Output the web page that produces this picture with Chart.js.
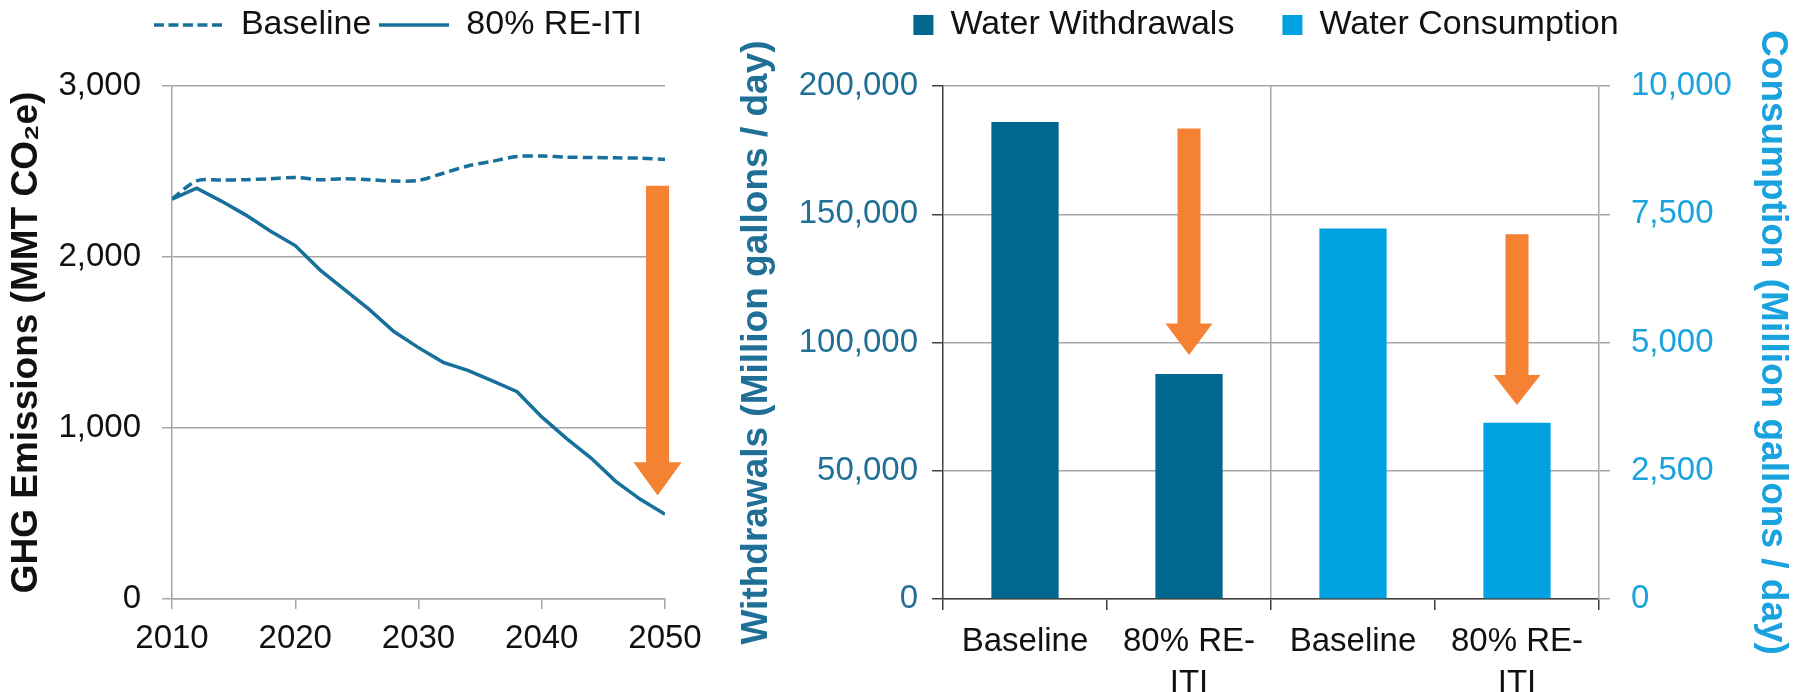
<!DOCTYPE html>
<html>
<head>
<meta charset="utf-8">
<script src="https://cdn.jsdelivr.net/npm/chart.js@4.4.1/dist/chart.umd.min.js"></script>
<style>
  html, body { margin: 0; padding: 0; background: #fff; }
  #wrap { position: relative; width: 1799px; height: 692px; overflow: hidden; }
  .box { position: absolute; top: 0; height: 692px; }
  #ghgBox { left: 0; width: 796px; }
  #waterBox { left: 733px; width: 1066px; }
</style>
</head>
<body>
<div id="wrap">
  <div class="box" id="ghgBox"><canvas id="ghgChart"></canvas></div>
  <div class="box" id="waterBox"><canvas id="waterChart"></canvas></div>
</div>
<script>
// GHG emissions (MMT CO2e)
const years = [2010, 2012, 2014, 2016, 2018, 2020, 2022, 2024, 2026, 2028, 2030,
               2032, 2034, 2036, 2038, 2040, 2042, 2044, 2046, 2048, 2050];
const baselineGhg = [2340, 2445, 2450, 2452, 2458, 2465, 2452, 2458, 2452, 2444, 2448,
                     2490, 2532, 2560, 2588, 2590, 2584, 2582, 2580, 2578, 2570];
const reItiGhg = [2338, 2403, 2327, 2245, 2151, 2067, 1925, 1809, 1694, 1564, 1470,
                  1384, 1337, 1275, 1212, 1065, 939, 824, 688, 583, 495];
const ghgTicks = [0, 1000, 2000, 3000];

// water use (million gallons / day)
const waterLabels = [['Baseline'], ['80% RE-', 'ITI'], ['Baseline'], ['80% RE-', 'ITI']];
const withdrawals = [186000, 87700, null, null];
const consumption = [null, null, 7220, 3435];

// reduction arrows: x value, top, start of head, tip
const ghgArrow = [2049.4, 2417, 800, 605];
const withdrawalArrow = [1, 183400, 107400, 95100];
const consumptionArrow = [3, 7110, 4365, 3780];

const fontFamily = "'Liberation Sans', Arial, sans-serif";
const lineColor = '#17709b';
const gridColor = '#a6a6a6';
const darkAxis = '#404040';
const orange = '#f58132';
const tealText = '#1f6f97';
const lightText = '#1aa2de';

// little line pictures for the legend of the left panel
function legendLine(dash) {
    const c = document.createElement('canvas');
    c.width = 70;
    c.height = 6;
    const g = c.getContext('2d');
    g.strokeStyle = lineColor;
    g.lineWidth = 3.5;
    g.setLineDash(dash);
    g.beginPath();
    g.moveTo(0, 3);
    g.lineTo(70, 3);
    g.stroke();
    return c;
}

const arrowPlugin = {
    id: 'arrows',
    afterDatasetsDraw(chart, args, opts) {
        const ctx = chart.ctx;
        opts.items.forEach(a => {
            const xs = chart.scales[a.xAxis];
            const ys = chart.scales[a.yAxis];
            const x = xs.getPixelForValue(a.at[0]);
            const top = ys.getPixelForValue(a.at[1]);
            const neck = ys.getPixelForValue(a.at[2]);
            const tip = ys.getPixelForValue(a.at[3]);
            const s = opts.shaft / 2, h = opts.head / 2;
            ctx.save();
            ctx.fillStyle = opts.color;
            ctx.beginPath();
            ctx.moveTo(x - s, top);
            ctx.lineTo(x + s, top);
            ctx.lineTo(x + s, neck);
            ctx.lineTo(x + h, neck);
            ctx.lineTo(x, tip);
            ctx.lineTo(x - h, neck);
            ctx.lineTo(x - s, neck);
            ctx.closePath();
            ctx.fill();
            ctx.restore();
        });
    }
};

// empty box under the legend, keeps the gap between legend and plot
const spacer = {
    display: true,
    text: '',
    weight: 500,
    font: { size: 1, lineHeight: 1 },
    padding: { top: 0, bottom: 33 }
};

new Chart('ghgChart', {
    type: 'line',
    data: {
        datasets: [
            {
                label: 'Baseline',
                data: years.map((y, i) => ({ x: y, y: baselineGhg[i] })),
                borderColor: lineColor,
                backgroundColor: lineColor,
                borderWidth: 3.5,
                borderDash: [10, 5],
                pointRadius: 0,
                pointStyle: legendLine([10, 4.5]),
                tension: 0.3
            },
            {
                label: '80% RE-ITI',
                data: years.map((y, i) => ({ x: y, y: reItiGhg[i] })),
                borderColor: lineColor,
                backgroundColor: lineColor,
                borderWidth: 3.5,
                pointRadius: 0,
                pointStyle: legendLine([]),
                tension: 0
            }
        ]
    },
    options: {
        animation: false,
        responsive: true,
        maintainAspectRatio: false,
        plugins: {
            legend: {
                position: 'top',
                labels: {
                    usePointStyle: true,
                    pointStyleWidth: 70,
                    padding: 8,
                    color: '#111',
                    font: { family: fontFamily, size: 34 }
                }
            },
            subtitle: spacer,
            tooltip: { enabled: false },
            arrows: {
                color: orange, shaft: 23, head: 48,
                items: [{ xAxis: 'x', yAxis: 'y', at: ghgArrow }]
            }
        },
        scales: {
            x: {
                type: 'linear',
                min: 2010,
                max: 2050,
                ticks: {
                    stepSize: 10,
                    padding: 10,
                    color: '#111',
                    font: { family: fontFamily, size: 33 },
                    callback: (v) => String(v)
                },
                grid: { drawOnChartArea: false, color: gridColor, tickLength: 10, lineWidth: 1.5 },
                border: { color: gridColor, width: 1.5 },
                afterFit: (s) => { s.height = 93; s.paddingLeft = 0; s.paddingRight = 131; }
            },
            y: {
                min: 0,
                max: 3000,
                afterBuildTicks: (s) => { s.ticks = ghgTicks.map(v => ({ value: v })); },
                ticks: {
                    padding: 21,
                    color: '#111',
                    font: { family: fontFamily, size: 33 },
                    callback: (v) => v.toLocaleString('en-US')
                },
                grid: { color: gridColor, tickLength: 10, lineWidth: 1.5 },
                border: { color: gridColor, width: 1.5 },
                title: {
                    display: true,
                    text: 'GHG Emissions (MMT CO\u2082e)',
                    color: '#111',
                    padding: { top: 5, bottom: 0 },
                    font: { family: fontFamily, size: 37, weight: 'bold' }
                },
                afterFit: (s) => { s.width = 172; s.paddingTop = 86; }
            }
        }
    },
    plugins: [arrowPlugin]
});

new Chart('waterChart', {
    type: 'bar',
    data: {
        labels: waterLabels,
        datasets: [
            {
                label: 'Water Withdrawals',
                data: withdrawals,
                backgroundColor: '#00678f',
                yAxisID: 'y',
                skipNull: true,
                barPercentage: 0.41,
                categoryPercentage: 1
            },
            {
                label: 'Water Consumption',
                data: consumption,
                backgroundColor: '#00a2e1',
                yAxisID: 'y2',
                skipNull: true,
                barPercentage: 0.41,
                categoryPercentage: 1
            }
        ]
    },
    options: {
        animation: false,
        responsive: true,
        maintainAspectRatio: false,
        layout: { padding: { top: -40 } },
        plugins: {
            legend: {
                position: 'top',
                labels: {
                    boxWidth: 20,
                    boxHeight: 20,
                    padding: 48,
                    color: '#111',
                    font: { family: fontFamily, size: 34 }
                }
            },
            subtitle: spacer,
            tooltip: { enabled: false },
            arrows: {
                color: orange, shaft: 23, head: 47,
                items: [
                    { xAxis: 'x', yAxis: 'y', at: withdrawalArrow },
                    { xAxis: 'x', yAxis: 'y2', at: consumptionArrow }
                ]
            }
        },
        scales: {
            x: {
                ticks: {
                    padding: 10,
                    color: '#111',
                    maxRotation: 0,
                    autoSkip: false,
                    font: { family: fontFamily, size: 33, lineHeight: 1.3 }
                },
                grid: {
                    offset: true,
                    color: (c) => c.index === 2 ? gridColor : 'rgba(0,0,0,0)',
                    tickColor: darkAxis,
                    tickLength: 11,
                    lineWidth: 1.5
                },
                border: { color: darkAxis, width: 1.5 },
                afterFit: (s) => { s.height = 93; s.paddingLeft = 0; s.paddingRight = 0; }
            },
            y: {
                position: 'left',
                min: 0,
                max: 200000,
                ticks: {
                    stepSize: 50000,
                    padding: 14,
                    color: tealText,
                    font: { family: fontFamily, size: 33 },
                    callback: (v) => v.toLocaleString('en-US')
                },
                grid: { color: gridColor, tickColor: darkAxis, tickLength: 11, lineWidth: 1.5 },
                border: { color: darkAxis, width: 1.5 },
                title: {
                    display: true,
                    text: 'Withdrawals (Million gallons / day)',
                    color: tealText,
                    padding: { top: 2, bottom: 0 },
                    font: { family: fontFamily, size: 37, weight: 'bold' }
                },
                afterFit: (s) => { s.width = 210; s.paddingTop = 86; }
            },
            y2: {
                position: 'right',
                min: 0,
                max: 10000,
                ticks: {
                    stepSize: 2500,
                    padding: 21,
                    color: lightText,
                    font: { family: fontFamily, size: 33 },
                    callback: (v) => v.toLocaleString('en-US')
                },
                grid: { drawOnChartArea: false, color: gridColor, tickLength: 11, lineWidth: 1.5 },
                border: { color: gridColor, width: 1.5 },
                title: {
                    display: true,
                    text: 'Consumption (Million gallons / day)',
                    color: lightText,
                    padding: { top: 5, bottom: 0 },
                    font: { family: fontFamily, size: 37, weight: 'bold' }
                },
                afterFit: (s) => { s.width = 200; s.paddingTop = 86; }
            }
        }
    },
    plugins: [arrowPlugin]
});
</script>
</body>
</html>
